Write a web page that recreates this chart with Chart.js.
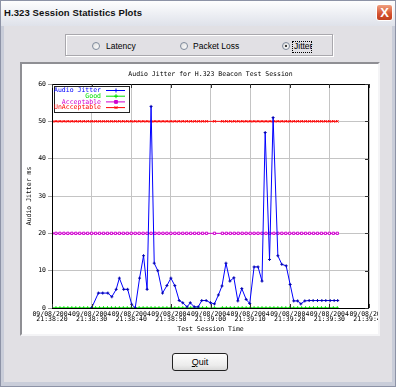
<!DOCTYPE html>
<html>
<head>
<meta charset="utf-8">
<script src="https://cdn.jsdelivr.net/npm/chart.js@4.4.0/dist/chart.umd.min.js"></script>
<style>
html, body { margin: 0; padding: 0; }
body { width: 396px; height: 387px; position: relative; overflow: hidden; background: #c9cdd9; font-family: "Liberation Sans", Arial, sans-serif; }
#win { position: absolute; left: 0; top: 0; width: 396px; height: 387px; box-sizing: border-box; border: 1px solid #8d93a6; background: #c9cdd9; }
#titlebar { position: absolute; left: 0; top: 0; width: 394px; height: 25px; background: linear-gradient(#fefefe, #eceef3 55%, #dfe2ea); }
#ttl { position: absolute; left: 3px; top: 6px; font-size: 9.5px; font-weight: bold; color: #111; letter-spacing: 0.1px; }
#close { position: absolute; left: 375px; top: 3px; width: 17px; height: 17px; box-sizing: border-box; border: 1px solid #fff; border-radius: 3px; background: linear-gradient(#f0a080, #d4512f 60%, #c0401f); color: #fff; font: bold 13px "Liberation Sans", Arial, sans-serif; text-align: center; line-height: 15px; }
#body { position: absolute; left: 3px; top: 25px; width: 388px; height: 356px; background: #e1e0e4; }
#group { position: absolute; left: 64px; top: 33px; width: 268px; height: 22px; box-sizing: border-box; border: 1px solid #a9a8ad; box-shadow: inset 1px 1px 0 #fff, 1px 1px 0 #fff; }
.rb { position: absolute; top: 41px; width: 8px; height: 8px; border-radius: 50%; box-sizing: border-box; border: 1px solid #7f8b9c; background: linear-gradient(135deg, #dcdcdc, #fff); }
.rb.on::after { content: ""; position: absolute; left: 2px; top: 2px; width: 2px; height: 2px; border-radius: 50%; background: #000; }
.rl { position: absolute; top: 40px; font-size: 8.5px; color: #000; line-height: 11px; }
#focus { position: absolute; left: 291px; top: 40px; width: 20px; height: 12px; box-sizing: border-box; border: 1px dotted #000; }
#panel { position: absolute; left: 19px; top: 61px; width: 360px; height: 274px; box-sizing: border-box; border: 2px solid; border-color: #8f8f94 #f4f4f6 #f4f4f6 #8f8f94; background: #fff; }
#panel canvas { position: absolute; left: 0; top: 0; }
#quit { position: absolute; left: 171px; top: 352px; width: 56px; height: 18px; box-sizing: border-box; border: 1px solid #222; border-radius: 3px; background: linear-gradient(#fdfdfd, #ececec 70%, #d9d9d9); font-size: 9px; text-align: center; line-height: 16px; color: #000; }
</style>
</head>
<body>
<div id="win">
  <div id="titlebar"><span id="ttl">H.323 Session Statistics Plots</span><div id="close">X</div></div>
  <div id="body"></div>
  <div id="group"></div>
  <div class="rb" style="left:91px"></div><div class="rl" style="left:105px">Latency</div>
  <div class="rb" style="left:179px"></div><div class="rl" style="left:192px">Packet Loss</div>
  <div class="rb on" style="left:281px"></div><div class="rl" style="left:293px">Jitter</div>
  <div id="focus"></div>
  <div id="panel"><canvas id="chart" width="356" height="270"></canvas></div>
  <div id="quit"><u>Q</u>uit</div>
</div>
<script>
// seconds after 21:38:20 on the x axis
const xTickDates = ["09/08/2004","09/08/2004","09/08/2004","09/08/2004","09/08/2004","09/08/2004","09/08/2004","09/08/2004","09/08/2004"];
const xTickTimes = ["21:38:20","21:38:30","21:38:40","21:38:50","21:39:00","21:39:10","21:39:20","21:39:30","21:39:40"];

const jitterSec = [10, 11.7, 12.8, 14.1, 15.1, 16.2, 17.0, 18.1, 19.1, 20.1, 21.0, 22.1, 23.1, 24.0, 25.0, 25.8, 26.7, 27.9, 29.0, 30.0,
  31.0, 32.1, 33.0, 34.1, 34.9, 35.9, 36.9, 37.8, 38.9, 40.0, 41.0, 42.0, 42.9, 43.9, 44.9, 45.9, 46.9, 47.9, 49.0, 49.9,
  51.0, 52.0, 53.0, 53.8, 54.9, 55.8, 57.0, 58.0, 59.1, 60.1, 61.0, 62.0, 62.8, 63.8, 64.9, 65.9, 67.0, 68.1, 69.1, 70.2, 71.2, 72.1];
const jitterMs = [0, 4, 4, 4, 3, 5, 8, 5, 5, 1, 0, 8, 14, 5, 54, 12, 10, 4, 6, 8,
  6, 2, 1.4, 0.3, 1.4, 0.3, 0.3, 2, 2, 1.4, 1.1, 3.5, 5.9, 12, 7.2, 8.1, 1.9, 5.2, 2.3, 1.2,
  11, 11, 7.2, 47, 13, 51, 14, 11.7, 11.3, 6.3, 1.9, 1.9, 1.1, 1.9, 2, 2, 2, 2, 2, 2, 2, 2];

// threshold lines are sampled every second (two samples missing)
const refSec = [0,1,2,3,4,5,6,7,8,9,10,11,12,13,14,15,16,17,18,19,20,21,22,23,24,25,26,27,28,29,30,31,32,33,34,35,36,37,38,39,
  41,43,44,45,46,47,48,49,50,51,52,53,54,55,56,57,58,59,60,61,62,63,64,65,66,67,68,69,70,71,72];
const goodMs = 0;
const acceptableMs = 20;
const unacceptableMs = 50;

const MONO = '"DejaVu Sans Mono", monospace';
const tinyFont = { family: MONO, size: 6.5 };

const pts = (xs, ys) => xs.map((t, i) => ({ x: t, y: Array.isArray(ys) ? ys[i] : ys }));

// frame, inward tick marks, title and the boxed legend
const decor = {
  id: "decor",
  afterDraw(chart){
    const { ctx, chartArea: a, scales } = chart;
    ctx.save();
    ctx.strokeStyle = "#000";
    ctx.lineWidth = 1;
    ctx.strokeRect(Math.round(a.left) + 0.5, Math.round(a.top) + 0.5, Math.round(a.right - a.left) - 1, Math.round(a.bottom - a.top));
    ctx.strokeStyle = "#333";
    ctx.beginPath();
    scales.x.ticks.forEach(t => {
      const px = Math.round(scales.x.getPixelForValue(t.value)) + 0.5;
      ctx.moveTo(px, a.top); ctx.lineTo(px, a.top + 4);
      ctx.moveTo(px, a.bottom); ctx.lineTo(px, a.bottom - 4);
    });
    scales.y.ticks.forEach(t => {
      const py = Math.round(scales.y.getPixelForValue(t.value)) + 0.5;
      ctx.moveTo(a.right, py); ctx.lineTo(a.right - 4, py);
    });
    ctx.stroke();

    ctx.fillStyle = "#000";
    ctx.font = "6.5px " + MONO;
    ctx.textAlign = "center";
    ctx.textBaseline = "middle";
    ctx.fillText("Audio Jitter for H.323 Beacon Test Session", (a.left + a.right) / 2, 10);

    // legend box
    const bx = a.left + 2, by = a.top + 2, bw = 75, bh = 26;
    ctx.fillStyle = "#fff";
    ctx.fillRect(bx, by, bw, bh);
    ctx.strokeStyle = "#222";
    ctx.strokeRect(bx + 0.5, by + 0.5, bw, bh);
    ctx.textAlign = "right";
    chart.data.datasets.forEach((ds, i) => {
      const y = by + 4.5 + i * 5.7;
      ctx.fillStyle = ds.borderColor;
      ctx.fillText(ds.label, bx + 47, y);
      ctx.strokeStyle = ds.borderColor;
      ctx.beginPath();
      ctx.moveTo(bx + 52, y); ctx.lineTo(bx + 71, y);
      ctx.stroke();
      Chart.helpers.drawPoint(ctx, { pointStyle: ds.pointStyle, radius: 2, borderWidth: 1 }, bx + 62, y);
    });
    ctx.restore();
  }
};

new Chart(document.getElementById("chart"), {
  type: "line",
  data: {
    datasets: [
      { label: "Audio Jitter", data: pts(jitterSec, jitterMs), borderColor: "#0000ff", borderWidth: 1,
        pointStyle: "cross", pointRadius: 1.5, pointBorderColor: "#0000b0", pointBorderWidth: 1 },
      { label: "Good", data: pts(refSec, goodMs), borderColor: "#00e000", borderWidth: 1,
        pointStyle: "cross", pointRadius: 1.8, pointBorderColor: "#00e000", pointBorderWidth: 1 },
      { label: "Acceptable", data: pts(refSec, acceptableMs), borderColor: "#d000d0", borderWidth: 1,
        pointStyle: "rect", pointRadius: 1.6, pointBorderColor: "#d000d0", pointBackgroundColor: "#fff", pointBorderWidth: 1 },
      { label: "UnAcceptable", data: pts(refSec, unacceptableMs), borderColor: "#ff0000", borderWidth: 1,
        pointStyle: "crossRot", pointRadius: 1.8, pointBorderColor: "#ff0000", pointBorderWidth: 1 },
    ],
  },
  options: {
    responsive: false, animation: false,
    layout: { padding: { left: 0, right: 9, top: 20, bottom: 0 } },
    plugins: { legend: { display: false }, tooltip: { enabled: false } },
    scales: {
      x: {
        type: "linear", min: 0, max: 80,
        ticks: { stepSize: 10, autoSkip: false, maxRotation: 0, minRotation: 0, color: "#000", padding: 3,
          font: { family: MONO, size: 6.5, lineHeight: 0.9 },
          callback: (v, i) => [xTickDates[i], xTickTimes[i]] },
        grid: { color: "#c4c4c4", drawTicks: false },
        border: { display: false },
        title: { display: true, text: "Test Session Time", color: "#000", font: tinyFont, padding: { top: 0, bottom: 1 } },
        afterFit: s => { s.height = 26; s.paddingLeft = 0; s.paddingRight = 0; },
      },
      y: {
        min: 0, max: 60,
        ticks: { stepSize: 10, color: "#000", padding: 2, font: tinyFont },
        grid: { color: "#c4c4c4", tickLength: 4, tickColor: "#a0a0a0" },
        border: { display: false },
        title: { display: true, text: "Audio Jitter ms", color: "#000", font: tinyFont, padding: { top: 3, bottom: 0 } },
        afterFit: s => { s.width = 30; },
      },
    },
  },
  plugins: [decor],
});
</script>
</body>
</html>
